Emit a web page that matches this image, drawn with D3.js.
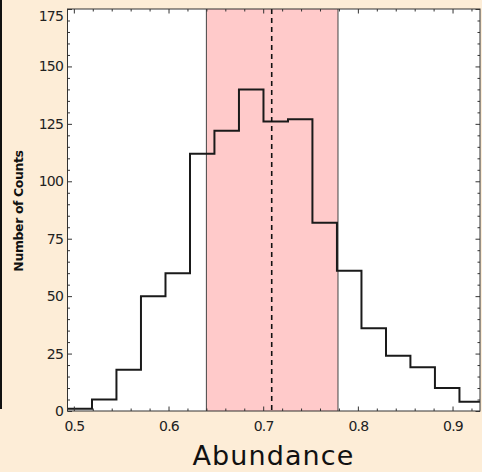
<!DOCTYPE html>
<html>
<head>
<meta charset="utf-8">
<script src="https://cdn.jsdelivr.net/npm/d3@7"></script>
<style>
  html, body { margin: 0; padding: 0; background: #FDEDD7; }
  svg { display: block; }
</style>
</head>
<body>
<svg id="chart" width="482" height="472"></svg>
<script>
// ---- data ----
const binEdges = [0.4933, 0.5192, 0.5450, 0.5709, 0.5968, 0.6227, 0.6485, 0.6744, 0.7003,
                  0.7262, 0.7520, 0.7779, 0.8038, 0.8297, 0.8555, 0.8814, 0.9073, 0.9332];
const counts = [1, 5, 18, 50, 60, 112, 122, 140, 126, 127, 82, 61, 36, 24, 19, 10, 4];
const bandRange = [0.640, 0.779];
const meanValue = 0.709;
const xTicks = [0.5, 0.6, 0.7, 0.8, 0.9];
const xTickLabels = ["0.5", "0.6", "0.7", "0.8", "0.9"];
const yTicks = [0, 25, 50, 75, 100, 125, 150, 175];
const yTickLabels = ["0", "25", "50", "75", "100", "125", "150", "175"];
const xDomain = [0.4933, 0.929];
const yDomain = [0, 175];
const xTitle = "Abundance";
const yTitle = "Number of Counts";

// ---- layout ----
const L = 67.5, R = 480, T = 9, B = 411;
const svg = d3.select("#chart");
const x = d3.scaleLinear().domain(xDomain).range([L, R]);
const y = d3.scaleLinear().domain(yDomain).range([B, T]);

// left decorative line
svg.append("line").attr("x1", 1).attr("x2", 1).attr("y1", 0).attr("y2", 409)
  .attr("stroke", "#111").attr("stroke-width", 2);

svg.append("defs").append("clipPath").attr("id", "clip")
  .append("rect").attr("x", L).attr("y", T).attr("width", R - L).attr("height", B - T);

svg.append("rect").attr("x", L).attr("y", T).attr("width", R - L).attr("height", B - T)
  .attr("fill", "#fff");

const plot = svg.append("g").attr("clip-path", "url(#clip)");

// band
plot.append("rect")
  .attr("x", x(bandRange[0])).attr("y", T)
  .attr("width", x(bandRange[1]) - x(bandRange[0])).attr("height", B - T)
  .attr("fill", "#FFCACA");
bandRange.forEach(v => {
  plot.append("line").attr("x1", x(v)).attr("x2", x(v)).attr("y1", T).attr("y2", B)
    .attr("stroke", "#444").attr("stroke-width", 1);
});

// histogram step outline
const pts = [];
counts.forEach((c, i) => {
  pts.push([x(binEdges[i]), y(c)]);
  pts.push([x(binEdges[i + 1]), y(c)]);
});
plot.append("path")
  .attr("d", d3.line()(pts))
  .attr("fill", "none").attr("stroke", "#1a1a1a").attr("stroke-width", 2)
  .attr("stroke-linejoin", "miter");

// mean dashed line
plot.append("line").attr("x1", x(meanValue)).attr("x2", x(meanValue)).attr("y1", T).attr("y2", B)
  .attr("stroke", "#111").attr("stroke-width", 1.6).attr("stroke-dasharray", "5,4");

// ---- axes (ticks inward) ----
const xMinor = d3.range(0.5, 0.93, 0.02).map(v => +v.toFixed(2)).filter(v => !xTicks.includes(v));
const yMinor = d3.range(0, 176, 5).filter(v => !yTicks.includes(v));

function styleAxis(g) {
  g.select(".domain").remove();
  g.selectAll(".tick line").attr("stroke", "#333").attr("stroke-width", 1);
}

svg.append("g").attr("transform", `translate(0,${B})`)
  .call(d3.axisBottom(x).tickValues(xTicks).tickSize(-4.5).tickFormat((d, i) => xTickLabels[i]).tickPadding(10))
  .call(styleAxis);
svg.append("g").attr("transform", `translate(0,${B})`)
  .call(d3.axisBottom(x).tickValues(xMinor).tickSize(-2.5).tickFormat(""))
  .call(styleAxis);
svg.append("g").attr("transform", `translate(0,${T})`)
  .call(d3.axisTop(x).tickValues(xTicks).tickSize(-4.5).tickFormat(""))
  .call(styleAxis);
svg.append("g").attr("transform", `translate(0,${T})`)
  .call(d3.axisTop(x).tickValues(xMinor).tickSize(-2.5).tickFormat(""))
  .call(styleAxis);

const yAx = svg.append("g").attr("transform", `translate(${L},0)`)
  .call(d3.axisLeft(y).tickValues(yTicks).tickSize(-4.5).tickFormat((d, i) => yTickLabels[i]).tickPadding(4.5))
  .call(styleAxis);
svg.append("g").attr("transform", `translate(${L},0)`)
  .call(d3.axisLeft(y).tickValues(yMinor).tickSize(-2.5).tickFormat(""))
  .call(styleAxis);
svg.append("g").attr("transform", `translate(${R},0)`)
  .call(d3.axisRight(y).tickValues(yTicks).tickSize(-4.5).tickFormat(""))
  .call(styleAxis);
svg.append("g").attr("transform", `translate(${R},0)`)
  .call(d3.axisRight(y).tickValues(yMinor).tickSize(-2.5).tickFormat(""))
  .call(styleAxis);

svg.selectAll(".tick text")
  .attr("font-family", "DejaVu Sans, sans-serif")
  .attr("font-size", 14).attr("letter-spacing", "-0.8px").attr("fill", "#222");
// top y label sits a little lower
yAx.selectAll(".tick").filter(d => d === 175).select("text").attr("dy", "0.8em");

// frame
svg.append("rect").attr("x", L).attr("y", T).attr("width", R - L).attr("height", B - T)
  .attr("fill", "none").attr("stroke", "#333").attr("stroke-width", 1);

// titles
svg.append("text").attr("x", 273.5).attr("y", 465)
  .attr("text-anchor", "middle")
  .attr("font-family", "DejaVu Sans, sans-serif").attr("font-size", 27)
  .attr("letter-spacing", "1.1px").attr("fill", "#111")
  .text(xTitle);
svg.append("text")
  .attr("transform", "translate(23,211) rotate(-90)")
  .attr("text-anchor", "middle")
  .attr("font-family", "DejaVu Sans, sans-serif").attr("font-weight", "bold")
  .attr("font-size", 12.5).attr("letter-spacing", "-0.4px").attr("fill", "#111")
  .text(yTitle);
</script>
</body>
</html>
